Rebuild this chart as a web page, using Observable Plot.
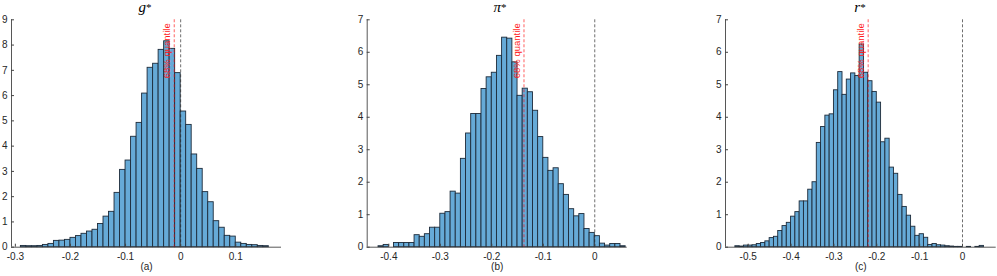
<!DOCTYPE html>
<html><head><meta charset="utf-8">
<script src="https://cdn.jsdelivr.net/npm/d3@7"></script>
<script src="https://cdn.jsdelivr.net/npm/@observablehq/plot@0.6"></script>
<style>
body{margin:0;background:#fff;}
#wrap{position:relative;width:997px;height:276px;overflow:hidden;}
.panel{position:absolute;top:0;}
.title{position:absolute;top:0;font-family:"Liberation Serif",serif;font-style:italic;font-size:15px;line-height:15px;color:#000;transform:translateX(-50%);white-space:nowrap;}
.title sup{font-style:normal;font-size:11px;line-height:0;position:relative;top:-1px;vertical-align:baseline;}
</style></head><body><div id="wrap"></div>
<script>
// ---- data ----
const binWidth = 0.01;
const annotation = "68% quantile";

const gStart = -0.29;
const gValues = [0.05,0.04,0.04,0.05,0.09,0.13,0.25,0.26,0.29,0.37,0.44,0.53,0.62,0.69,0.92,1.21,1.40,2.15,3.06,3.43,4.37,4.92,6.08,7.10,7.26,7.81,8.15,7.85,6.89,5.37,4.84,3.67,3.10,2.18,1.78,1.03,0.77,0.45,0.42,0.18,0.13,0.09,0.08,0.05,0.04];
const gQuantile = -0.0115;
const gXTicks = [-0.3,-0.2,-0.1,0,0.1];
const gYTicks = [0,1,2,3,4,5,6,7,8,9];

const piStart = -0.42;
const piValues = [0.03,0.07,0,0.13,0.13,0.13,0.13,0.37,0.32,0.40,0.60,0.60,1.03,1.08,1.71,1.65,2.72,3.50,4.10,4.10,4.87,5.23,5.37,5.89,6.45,6.42,5.69,4.66,4.88,4.77,4.20,3.39,2.75,2.35,2.43,1.94,1.61,1.17,0.95,1.02,0.56,0.44,0.34,0.11,0.05,0.10,0.10,0.03];
const piQuantile = -0.1375;
const piXTicks = [-0.4,-0.3,-0.2,-0.1,0];
const piYTicks = [0,1,2,3,4,5,6,7];

const rStart = -0.53;
const rValues = [0.03,0.02,0.05,0.05,0.06,0.10,0.13,0.18,0.28,0.32,0.50,0.65,0.75,0.94,1.08,1.41,1.41,1.77,2.00,3.21,3.70,4.05,4.09,4.83,5.39,4.69,5.16,5.35,5.27,6.24,5.37,5.11,4.78,4.45,3.23,3.34,2.45,2.26,1.61,1.24,0.97,0.63,0.35,0.40,0.29,0.07,0.10,0.06,0.05,0.03,0.02,0.01,0.01,0,0.01,0,0.01,0.04];
const rQuantile = -0.220;
const rXTicks = [-0.5,-0.4,-0.3,-0.2,-0.1,0];
const rYTicks = [0,1,2,3,4,5,6,7];

const titles = [["g","*"],["π","*"],["r","*"]];
const subLabels = ["(a)","(b)","(c)"];

// ---- layout ----
const H = 276, MT = 19.3, MB = 29.3;
const panels = [
  {start:gStart, values:gValues, q:gQuantile, xTicks:gXTicks, yTicks:gYTicks, xDomain:[-0.307,0.183], yMax:9, left:0, width:300, ml:11, mr:19, tc:145},
  {start:piStart, values:piValues, q:piQuantile, xTicks:piXTicks, yTicks:piYTicks, xDomain:[-0.442,0.063], yMax:7, left:340, width:300, ml:26.7, mr:13.3, tc:500},
  {start:rStart, values:rValues, q:rQuantile, xTicks:rXTicks, yTicks:rYTicks, xDomain:[-0.553,0.0786], yMax:7, left:700, width:297, ml:25, mr:1.3, tc:860}
];

const wrap = document.getElementById("wrap");
const fmt = d => d === 0 ? "0" : d.toFixed(1);
const axisColor = "#444";

panels.forEach((p, i) => {
  const bins = p.values.map((v, k) => ({x1: p.start + k*binWidth, x2: p.start + (k+1)*binWidth, v}));
  const chart = Plot.plot({
    width: p.width, height: H,
    marginLeft: p.ml, marginRight: p.mr, marginTop: MT, marginBottom: MB,
    style: {fontFamily: "'Liberation Sans', Arial, sans-serif", fontSize: "10px", color: "#262626", background: "transparent", overflow: "visible"},
    x: {domain: p.xDomain},
    y: {domain: [0, p.yMax]},
    marks: [
      Plot.rect(bins, {x1: "x1", x2: "x2", y1: 0, y2: "v", fill: "#66aad7", stroke: "#1d2b3a", strokeWidth: 0.9}),
      Plot.ruleX([0], {stroke: "#222", strokeOpacity: 0.65, strokeDasharray: "3,2", strokeWidth: 1}),
      Plot.ruleX([p.q], {stroke: "red", strokeOpacity: 0.45, strokeDasharray: "3,2", strokeWidth: 1.4}),
      Plot.text([p.q], {x: d => d, frameAnchor: "top", rotate: -90, textAnchor: "end", lineAnchor: "bottom", dx: -4, dy: 3.5, text: () => annotation, fill: "#ff1a1a", fontSize: 9.5}),
      Plot.ruleY([0], {stroke: axisColor, strokeWidth: 0.9}),
      Plot.ruleX([p.xDomain[0]], {stroke: axisColor, strokeWidth: 0.9}),
      Plot.axisX(p.xTicks, {anchor: "bottom", tickSize: -3, tickPadding: 9, tickFormat: fmt, label: null, stroke: axisColor, fill: "#262626", fontSize: 10}),
      Plot.axisY(p.yTicks, {anchor: "left", tickSize: -3, tickPadding: 7, tickFormat: d => String(d), label: null, stroke: axisColor, fill: "#262626", fontSize: 10}),
      Plot.text([subLabels[i]], {frameAnchor: "bottom", dy: 23, text: d => d, fill: "#262626", fontSize: 10})
    ]
  });
  chart.classList.add("panel");
  chart.style.left = p.left + "px";
  wrap.appendChild(chart);

  const t = document.createElement("div");
  t.className = "title";
  t.style.left = p.tc + "px";
  t.innerHTML = titles[i][0] + "<sup>" + titles[i][1] + "</sup>";
  wrap.appendChild(t);
});
</script>
</body></html>
